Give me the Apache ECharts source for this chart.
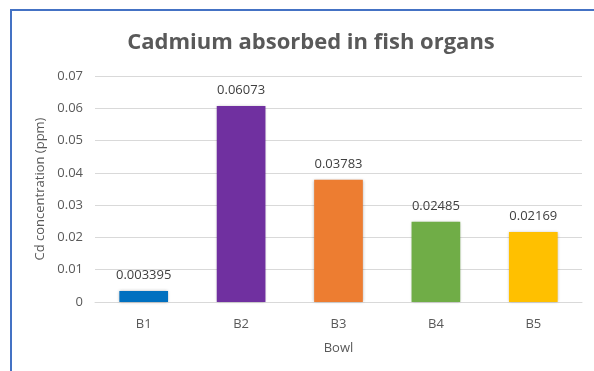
<!DOCTYPE html>
<html>
<head>
<meta charset="utf-8">
<script src="https://cdn.jsdelivr.net/npm/echarts@6/dist/echarts.min.js"></script>
<style>
  html,body{margin:0;padding:0;background:#fff;}
  #frame{position:absolute;left:10px;top:9px;width:600px;height:380px;border-top:2px solid #4472C4;border-left:2px solid #4472C4;}
  #main{position:absolute;left:0;top:0;width:594px;height:371px;}
</style>
</head>
<body>
<div id="frame"></div>
<div id="main"></div>
<script>
  // 数据
  var bowls = ['B1', 'B2', 'B3', 'B4', 'B5'];
  var cdValues = [0.003395, 0.06073, 0.03783, 0.02485, 0.02169];
  var barColors = ['#0070C0', '#7030A0', '#ED7D31', '#70AD47', '#FFC000'];

  var myChart = echarts.init(document.getElementById('main'));
  var font = 'Open Sans';
  var option = {
    backgroundColor: 'transparent',
    title: {
      text: 'Cadmium absorbed in fish organs',
      left: 306,
      top: 27,
      textAlign: 'center',
      textStyle: { fontFamily: font, fontWeight: 'bold', fontSize: 22, color: '#595959' }
    },
    grid: { left: 95, right: 12, top: 76, bottom: 69 },
    xAxis: {
      type: 'category',
      data: bowls,
      name: 'Bowl',
      nameLocation: 'middle',
      nameGap: 40,
      nameTextStyle: { fontFamily: font, fontSize: 13, color: '#595959' },
      axisLine: { lineStyle: { color: '#d9d9d9' } },
      axisTick: { show: false },
      axisLabel: { fontFamily: font, fontSize: 13, color: '#595959', margin: 16 }
    },
    yAxis: {
      type: 'value',
      min: 0,
      max: 0.07,
      interval: 0.01,
      name: 'Cd concentration (ppm)',
      nameLocation: 'middle',
      nameGap: 43,
      nameTextStyle: { fontFamily: font, fontSize: 13, color: '#595959' },
      axisLine: { show: false },
      axisTick: { show: false },
      splitLine: { lineStyle: { color: '#d9d9d9' } },
      axisLabel: { fontFamily: font, fontSize: 13, color: '#595959', margin: 12 }
    },
    series: [{
      type: 'bar',
      barWidth: '50%',
      data: cdValues.map(function (v, i) {
        return { value: v, itemStyle: { color: barColors[i] } };
      }),
      itemStyle: { shadowColor: 'rgba(0,0,0,0.3)', shadowBlur: 3 },
      label: {
        show: true,
        position: 'top',
        distance: 9,
        fontFamily: font,
        fontSize: 13,
        color: '#404040',
        formatter: function (p) { return String(p.value); }
      }
    }]
  };
  myChart.setOption(option);
</script>
</body>
</html>
